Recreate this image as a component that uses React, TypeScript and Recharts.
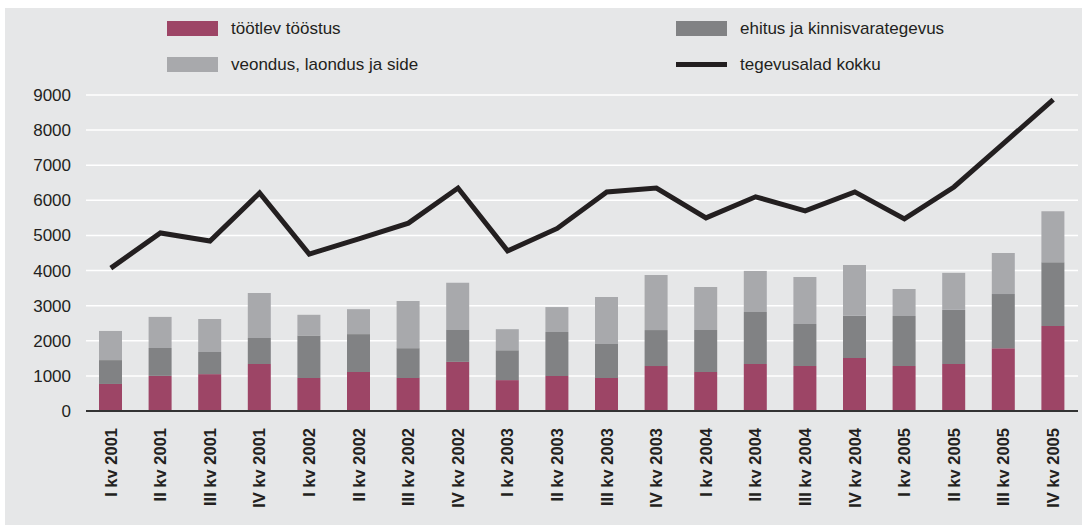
import { Bar, CartesianGrid, ComposedChart, Line, XAxis, YAxis } from "recharts";

const quarters = [
  "I kv 2001", "II kv 2001", "III kv 2001", "IV kv 2001",
  "I kv 2002", "II kv 2002", "III kv 2002", "IV kv 2002",
  "I kv 2003", "II kv 2003", "III kv 2003", "IV kv 2003",
  "I kv 2004", "II kv 2004", "III kv 2004", "IV kv 2004",
  "I kv 2005", "II kv 2005", "III kv 2005", "IV kv 2005",
];

// töötlev tööstus
const manufacturing = [770, 1000, 1050, 1340, 940, 1110, 940, 1400, 880, 1000, 940, 1280, 1110, 1340, 1280, 1510, 1280, 1340, 1790, 2420];
// ehitus ja kinnisvarategevus
const construction = [680, 795, 630, 740, 1200, 1080, 850, 910, 850, 1250, 970, 1025, 1200, 1480, 1200, 1200, 1425, 1540, 1540, 1820];
// veondus, laondus ja side
const transport = [830, 885, 940, 1280, 600, 710, 1340, 1340, 600, 710, 1340, 1570, 1225, 1170, 1340, 1450, 770, 1055, 1170, 1450];
// tegevusalad kokku
const total = [4070, 5070, 4840, 6210, 4470, 4900, 5350, 6350, 4560, 5200, 6240, 6350, 5500, 6100, 5700, 6240, 5470, 6380, 7620, 8870];

const yTicks = [0, 1000, 2000, 3000, 4000, 5000, 6000, 7000, 8000, 9000];

const data = quarters.map((q, i) => ({
  q,
  manufacturing: manufacturing[i],
  construction: construction[i],
  transport: transport[i],
  total: total[i],
}));

const RED = "#9d4566";
const DARK = "#818284";
const LIGHT = "#a8a9ac";
const INK = "#231f20";
const font = "'Liberation Sans', Arial, sans-serif";

function QuarterTick({ x, y, payload }: any) {
  const ty = y + 9;
  return (
    <text
      x={x}
      y={ty}
      transform={`rotate(-90, ${x}, ${ty})`}
      textAnchor="end"
      dy="0.35em"
      fontSize={16.5}
      fontWeight="bold"
      fill={INK}
      fontFamily={font}
    >
      {payload.value}
    </text>
  );
}

const legendItems = [
  { label: "töötlev tööstus", color: RED, kind: "box", left: 167, top: 21 },
  { label: "ehitus ja kinnisvarategevus", color: DARK, kind: "box", left: 676, top: 21 },
  { label: "veondus, laondus ja side", color: LIGHT, kind: "box", left: 167, top: 57 },
  { label: "tegevusalad kokku", color: INK, kind: "line", left: 676, top: 57 },
];

function ChartLegend() {
  return (
    <div style={{ position: "absolute", left: 0, top: 0, width: 1086, height: 90, fontFamily: font }}>
      {legendItems.map((it) => (
        <div key={it.label} style={{ position: "absolute", left: it.left, top: it.top, display: "flex", alignItems: "center", height: 15 }}>
          <span
            style={{
              display: "inline-block",
              width: 51,
              height: it.kind === "box" ? 15 : 5,
              background: it.color,
            }}
          />
          <span style={{ marginLeft: 13, fontSize: 17, color: INK, whiteSpace: "nowrap" }}>{it.label}</span>
        </div>
      ))}
    </div>
  );
}

export default function App() {
  return (
    <div style={{ position: "absolute", left: 0, top: 0, width: 1086, height: 530, background: "#fff" }}>
      <div style={{ position: "absolute", left: 5, top: 8, width: 1077, height: 517, background: "#e6e7e8" }} />
      <ChartLegend />
      <div style={{ position: "absolute", left: 0, top: 0 }}>
        <ComposedChart width={1086} height={530} data={data} margin={{ top: 95, right: 8, bottom: 0, left: 0 }}>
          <CartesianGrid vertical={false} stroke="#ffffff" strokeWidth={1.5} />
          <XAxis
            dataKey="q"
            interval={0}
            height={119}
            tickLine={false}
            axisLine={{ stroke: "#333", strokeWidth: 2 }}
            tick={<QuarterTick />}
          />
          <YAxis
            width={86}
            domain={[0, 9000]}
            ticks={yTicks}
            axisLine={false}
            tickLine={false}
            tickMargin={9}
            tick={{ fill: INK, fontSize: 17, fontFamily: font }}
          />
          <Bar dataKey="manufacturing" stackId="a" fill={RED} barSize={23} isAnimationActive={false} />
          <Bar dataKey="construction" stackId="a" fill={DARK} barSize={23} isAnimationActive={false} />
          <Bar dataKey="transport" stackId="a" fill={LIGHT} barSize={23} isAnimationActive={false} />
          <Line
            dataKey="total"
            type="linear"
            stroke={INK}
            strokeWidth={5}
            strokeLinejoin="miter"
            dot={false}
            activeDot={false}
            isAnimationActive={false}
          />
        </ComposedChart>
      </div>
    </div>
  );
}
